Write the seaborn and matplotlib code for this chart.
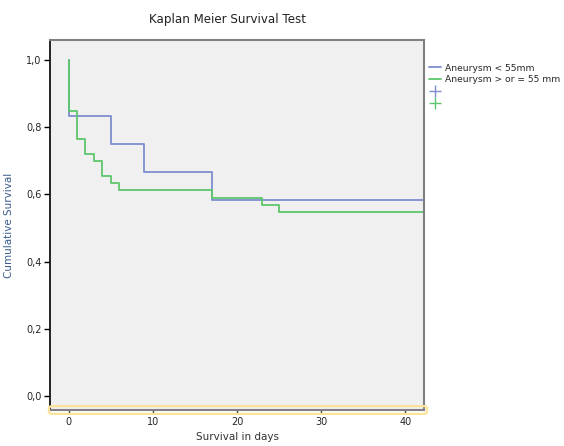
import pandas as pd
import numpy as np
import seaborn as sns
import matplotlib.pyplot as plt
from matplotlib.lines import Line2D
from matplotlib.patches import FancyBboxPatch

# survival curves (step functions)
small_days = [0, 0, 5, 9, 17, 42.2]
small_surv = [1.0, 0.833, 0.75, 0.667, 0.583, 0.583]
large_days = [0, 0, 1, 2, 3, 4, 5, 6, 17, 23, 25, 42.2]
large_surv = [1.0, 0.85, 0.765, 0.72, 0.70, 0.655, 0.633, 0.612, 0.59, 0.568, 0.547, 0.547]
groups = ["Aneurysm < 55mm", "Aneurysm > or = 55 mm"]
y_ticks = [0.0, 0.2, 0.4, 0.6, 0.8, 1.0]
x_ticks = [0, 10, 20, 30, 40]

data = pd.concat([
    pd.DataFrame({"days": small_days, "surv": small_surv, "group": groups[0]}),
    pd.DataFrame({"days": large_days, "surv": large_surv, "group": groups[1]}),
])

colors = {groups[0]: "#7d8dcf", groups[1]: "#5cc76c"}
sns.set_style("white")
plt.rcParams['font.family'] = ['DejaVu Sans']

fig = plt.figure(figsize=(5.64, 4.46), dpi=100)
ax = fig.add_axes([50/564, 1 - 410/446, 374/564, 370/446])
ax.set_facecolor("#f0f0f0")

for g in groups:
    sub = data[data["group"] == g]
    sns.lineplot(x="days", y="surv", data=sub, ax=ax, color=colors[g],
                 drawstyle="steps-post", linewidth=1.3, sort=False,
                 estimator=None, legend=False)

ax.set_xlim(-2.2, 42.2)
ax.set_ylim(-0.042, 1.06)
ax.set_yticks(y_ticks)
ax.set_yticklabels([f"{v:.1f}".replace(".", ",") for v in y_ticks])
ax.set_xticks(x_ticks)
ax.set_xticklabels([str(v) for v in x_ticks])
ax.tick_params(axis="both", labelsize=7, length=4, width=1, color="black",
               direction="out", pad=2, left=True, bottom=True)
ax.tick_params(axis="x", length=3, color="#333333")

for side in ["top", "right", "bottom"]:
    ax.spines[side].set_color("#808080")
    ax.spines[side].set_linewidth(1.5)
ax.spines["left"].set_color("black")
ax.spines["left"].set_linewidth(1.2)

ax.set_xlabel("Survival in days", fontsize=7.5, color="#333333", labelpad=4)
ax.set_ylabel("Cumulative Survival", fontsize=7.5, color="#3a5a8c")
ax.yaxis.set_label_coords(-0.095, 0.5)
fig.text(228/564, 1 - 20/446, "Kaplan Meier Survival Test", ha="center",
         va="center", fontsize=8.6, color="#222222")

# yellow selection highlight around the x axis line
hl = FancyBboxPatch((50/564, 1 - 413/446), 376/564, 6/446,
                    boxstyle="round,pad=0.002,rounding_size=0.006",
                    transform=fig.transFigure, facecolor="none",
                    edgecolor="#fbe49a", linewidth=1.6, zorder=5)
fig.patches.append(hl)

handles = [
    Line2D([], [], color=colors[groups[0]], lw=1.3),
    Line2D([], [], color=colors[groups[1]], lw=1.3),
    Line2D([], [], color=colors[groups[0]], lw=0, marker="+", markersize=9),
    Line2D([], [], color=colors[groups[1]], lw=0, marker="+", markersize=9),
]
labels = [groups[0], groups[1], "", ""]
fig.legend(handles, labels, loc="upper left", bbox_to_anchor=(425/564, 1 - 60/446),
           frameon=False, fontsize=6.6, handlelength=1.3, handletextpad=0.5,
           labelspacing=0.3, borderaxespad=0)

fig.savefig("out.png", dpi=100)
